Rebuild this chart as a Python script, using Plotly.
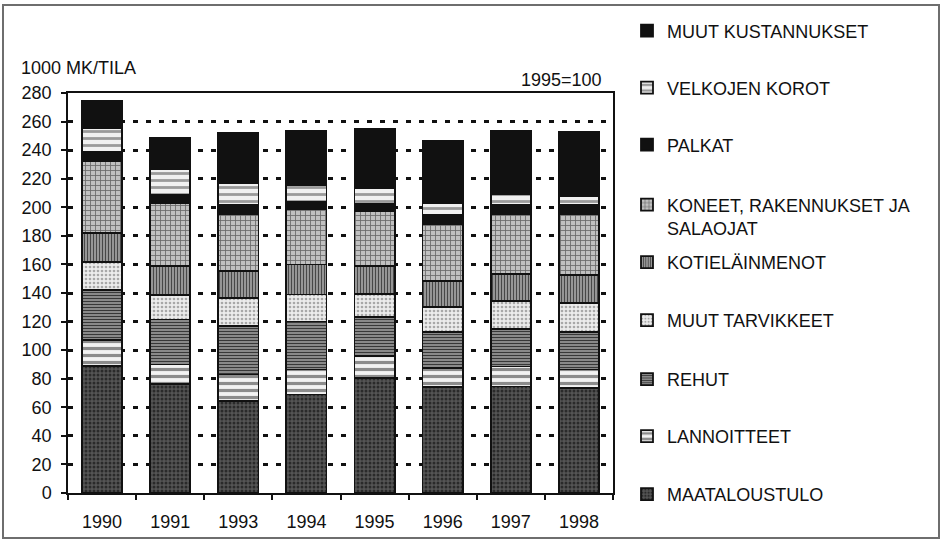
import plotly.graph_objects as go

years = ["1990", "1991", "1993", "1994", "1995", "1996", "1997", "1998"]

maataloustulo = [89, 76.5, 64.5, 69, 80.5, 74, 74.5, 73.5]
lannoitteet = [18, 13.5, 18.5, 17.5, 15.5, 13.5, 14, 13]
rehut = [35, 31.5, 34, 33.5, 27, 25, 26.5, 26]
muut_tarvikkeet = [19.5, 17, 19.5, 19, 16.5, 17.5, 19.5, 20.5]
kotielainmenot = [20.5, 20.5, 19, 21, 19.5, 18.5, 19, 19.5]
koneet = [50.5, 44, 40, 38.5, 38.5, 39.5, 41.5, 42.5]
palkat = [6, 6, 6, 5, 5, 6.5, 6.5, 6.5]
velkojen_korot = [17, 17.5, 15.5, 12, 11, 8.5, 7.5, 6.5]
muut_kustannukset = [19, 22, 35, 38, 41.5, 43.5, 44.5, 45]

series_names = [
    "MAATALOUSTULO", "LANNOITTEET", "REHUT", "MUUT TARVIKKEET",
    "KOTIELÄINMENOT", "KONEET, RAKENNUKSET JA<br>SALAOJAT", "PALKAT",
    "VELKOJEN KOROT", "MUUT KUSTANNUKSET",
]
series_values = [maataloustulo, lannoitteet, rehut, muut_tarvikkeet,
                 kotielainmenot, koneet, palkat, velkojen_korot, muut_kustannukset]

y_title = "1000 MK/TILA"
note = "1995=100"

W, H = 942, 544
L, R, T, B = 68, 613, 93, 493  # plot area in px

styles = [
    dict(bg="#555555", fg="#2a2a2a", shape=".", size=4, sol=0.45),
    dict(bg="#f2f2f2", fg="#8c8c8c", shape="-", size=7, sol=0.45),
    dict(bg="#9a9a9a", fg="#383838", shape="-", size=3, sol=0.45),
    dict(bg="#ececec", fg="#a8a8a8", shape=".", size=4, sol=0.35),
    dict(bg="#a6a6a6", fg="#484848", shape="|", size=3, sol=0.45),
    dict(bg="#c0c0c0", fg="#686868", shape="+", size=5, sol=0.3),
    dict(bg="#111111", fg="#111111", shape="", size=4, sol=0.3),
    dict(bg="#f0f0f0", fg="#9a9a9a", shape="-", size=7, sol=0.4),
    dict(bg="#111111", fg="#111111", shape="", size=4, sol=0.3),
]

# legend text vertical centers (px from top), bottom series first
legend_py = [494.5, 436.5, 379.5, 320.5, 262.5, 216.5, 145, 88, 31]

font_family = "Arial, Liberation Sans, sans-serif"

fig = go.Figure()
for i, (name, vals, st) in enumerate(zip(series_names, series_values, styles)):
    lg = "legend" if i == 0 else f"legend{i+1}"
    fig.add_trace(go.Bar(
        x=years, y=vals, name=name, legend=lg,
        marker=dict(
            color=st["bg"],
            line=dict(color="#111111", width=1.8),
            pattern=dict(shape=st["shape"], bgcolor=st["bg"], fgcolor=st["fg"],
                         size=st["size"], solidity=st["sol"], fillmode="replace"),
        ),
        hoverinfo="skip",
    ))

layout_legends = {}
for i, py in enumerate(legend_py):
    key = "legend" if i == 0 else f"legend{i+1}"
    layout_legends[key] = dict(
        xref="container", yref="container",
        x=627 / W, y=1 - py / H, xanchor="left", yanchor="middle",
        font=dict(family=font_family, size=18, color="#111111"),
        bgcolor="rgba(0,0,0,0)", borderwidth=0,
        valign="top",
    )

fig.update_layout(
    width=W, height=H,
    margin=dict(l=L, r=W - R, t=T, b=H - B, pad=0),
    paper_bgcolor="white", plot_bgcolor="white",
    barmode="stack", bargap=0.41,
    showlegend=True,
    font=dict(family=font_family, size=18, color="#111111"),
    **layout_legends,
)

fig.update_xaxes(
    type="category", tickson="boundaries", ticks="outside", ticklen=5,
    tickcolor="#111111", tickwidth=1.5,
    showline=True, linecolor="#111111", linewidth=1.5, mirror=True,
    showgrid=False, ticklabelstandoff=12,
    tickfont=dict(family=font_family, size=18, color="#111111"),
)
fig.update_yaxes(
    range=[0, 280], dtick=20, tick0=0, ticks="outside", ticklen=5,
    tickcolor="#111111", tickwidth=1.5,
    showline=True, linecolor="#111111", linewidth=1.5, mirror=True,
    showgrid=True, gridcolor="#111111", gridwidth=3, griddash="5px,8px",
    zeroline=False, ticklabelstandoff=6,
    tickfont=dict(family=font_family, size=18, color="#111111"),
)

# outer frame
def px_x(px):
    return (px - L) / (R - L)

def px_y(py):
    return (B - py) / (B - T)

fig.add_shape(type="rect", xref="paper", yref="paper",
              x0=px_x(3), x1=px_x(939), y0=px_y(538), y1=px_y(5),
              line=dict(color="#6e6e6e", width=2), fillcolor="rgba(0,0,0,0)",
              layer="below")

fig.add_annotation(text=y_title, xref="paper", yref="paper",
                   x=px_x(19), y=px_y(67.5), xanchor="left", yanchor="middle",
                   showarrow=False, font=dict(family=font_family, size=18, color="#111111"))
fig.add_annotation(text=note, xref="paper", yref="paper",
                   x=px_x(604), y=px_y(79.5), xanchor="right", yanchor="middle",
                   showarrow=False, font=dict(family=font_family, size=18, color="#111111"))

fig.write_html(
    "out.html",
    config={"displayModeBar": False},
    post_script="document.body.style.margin='0';document.body.style.overflow='hidden';",
)
